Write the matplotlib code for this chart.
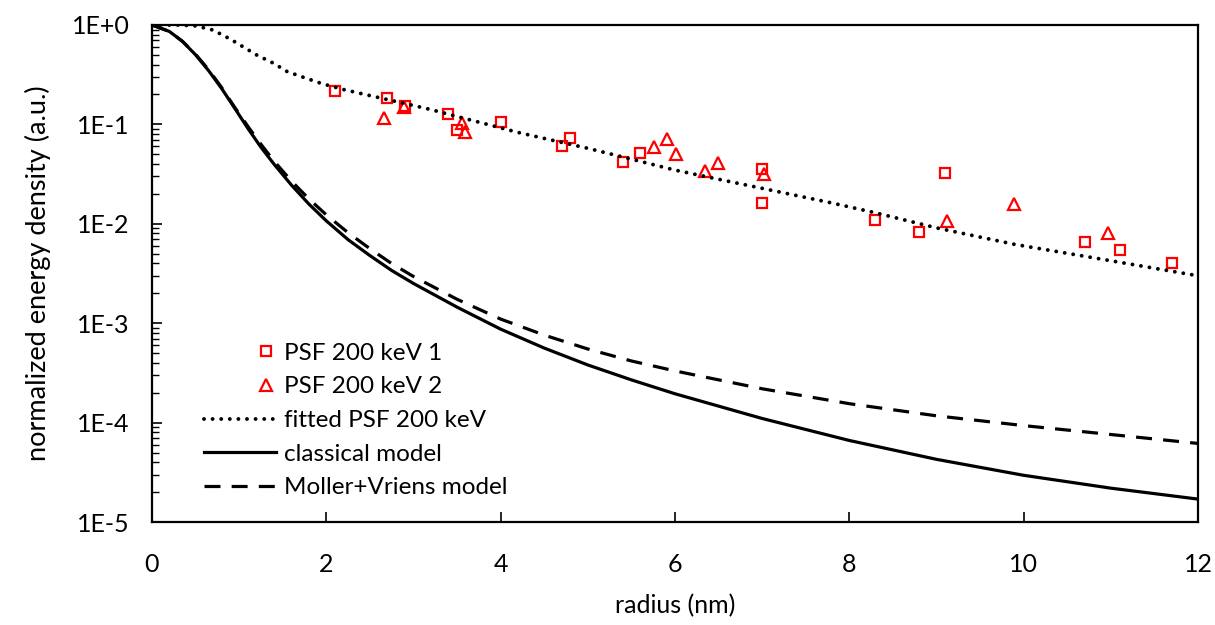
import numpy as np
import matplotlib
matplotlib.use('Agg')

import matplotlib.pyplot as plt
from matplotlib.legend_handler import HandlerLine2D
from matplotlib.ticker import LogLocator, FuncFormatter, NullFormatter, MultipleLocator

plt.rcParams['font.family'] = ['Lato', 'DejaVu Sans']

# --- measured PSF points ---
psf1_r = [2.1, 2.7, 2.9, 3.4, 3.5, 4.0, 4.7, 4.8, 5.4, 5.6, 7.0, 7.0,
          8.3, 8.8, 9.1, 10.7, 11.1, 11.7]
psf1_v = [0.217, 0.184, 0.153, 0.127, 0.088, 0.105, 0.061, 0.073, 0.042, 0.051,
          0.0355, 0.0162, 0.0109, 0.0083, 0.0328, 0.0066, 0.0055, 0.0040]

psf2_r = [2.66, 2.89, 3.56, 3.59, 5.76, 5.91, 6.01, 6.34, 6.49, 7.02,
          9.12, 9.89, 10.97]
psf2_v = [0.116, 0.150, 0.103, 0.084, 0.059, 0.071, 0.050, 0.034, 0.041, 0.0317,
          0.0107, 0.0158, 0.0081]

# --- fitted PSF (dotted) ---
fit_r = [0, 0.3, 0.5, 0.7, 0.9, 1.05, 1.2, 1.4, 1.55, 1.75, 1.95, 2.2, 2.5, 2.8,
         3.2, 3.5, 3.85, 4.2, 4.6, 5.0, 5.5, 6.0, 6.6, 7.2, 7.8, 8.3, 9.0, 9.9,
         10.9, 12.0]
fit_v = [1.0, 1.0, 0.98, 0.89, 0.72, 0.60, 0.50, 0.41, 0.34, 0.295, 0.257, 0.224,
         0.195, 0.17, 0.141, 0.12, 0.10, 0.083, 0.069, 0.0575, 0.0447, 0.0347,
         0.0269, 0.0209, 0.0162, 0.0129, 0.0091, 0.0062, 0.0044, 0.0030]

# --- model curves ---
model_r = [0, 0.2, 0.35, 0.5, 0.65, 0.8, 0.95, 1.1, 1.25, 1.4, 1.6, 1.8, 2.0,
           2.25, 2.5, 2.75, 3.0, 3.5, 4.0, 4.5, 5.0, 5.5, 6.0, 7.0, 8.0, 9.0,
           10.0, 11.0, 12.0]
classical_v = [1.0, 0.861, 0.684, 0.501, 0.347, 0.229, 0.145, 0.0912, 0.0589,
               0.0398, 0.0245, 0.0158, 0.0107, 0.00692, 0.00479, 0.00339,
               0.00251, 0.00145, 0.000871, 0.000562, 0.000380, 0.000269,
               0.000195, 0.000110, 6.61e-5, 4.27e-5, 2.95e-5, 2.19e-5, 1.70e-5]
moller_v = [1.0, 0.861, 0.684, 0.507, 0.355, 0.234, 0.148, 0.0955, 0.0631,
            0.0427, 0.0269, 0.0178, 0.0123, 0.00813, 0.00562, 0.00398,
            0.00295, 0.00174, 0.00110, 0.000759, 0.000550, 0.000417,
            0.000331, 0.000219, 0.000155, 0.000117, 9.33e-5, 7.59e-5, 6.17e-5]


class MarkerRight(HandlerLine2D):
    # legend marker sits near the right end of the handle, as in Excel
    def get_xdata(self, legend, xdescent, ydescent, width, height, fontsize):
        xd = np.array([-xdescent + 0.85 * width])
        return xd, xd


fig = plt.figure(figsize=(12.15, 6.25), dpi=100)
ax = fig.add_axes([0.1251, 0.1648, 0.8609, 0.7952])

p1, = ax.plot(psf1_r, psf1_v, linestyle='none', marker='s', markersize=7.5,
              markerfacecolor='none', markeredgecolor='#ff0000', markeredgewidth=1.6,
              label='PSF 200 keV 1')
p2, = ax.plot(psf2_r, psf2_v, linestyle='none', marker='^', markersize=8.5,
              markerfacecolor='none', markeredgecolor='#ff0000', markeredgewidth=1.6,
              label='PSF 200 keV 2')
ax.plot(fit_r, fit_v, color='black', linewidth=2.8, linestyle=(0, (0.01, 2.2)),
        dash_capstyle='round', label='fitted PSF 200 keV')
ax.plot(model_r, classical_v, color='black', linewidth=2.3, label='classical model')
ax.plot(model_r, moller_v, color='black', linewidth=2.3, linestyle=(0, (5, 3.5)),
        label='Moller+Vriens model')

ax.set_yscale('log')
ax.set_xlim(0, 12)
ax.set_ylim(1e-5, 1)

ax.xaxis.set_major_locator(MultipleLocator(2))
ax.yaxis.set_major_locator(LogLocator(base=10, numticks=10))
ax.yaxis.set_minor_locator(LogLocator(base=10, subs=np.arange(2, 10), numticks=10))
ax.yaxis.set_minor_formatter(NullFormatter())
ax.yaxis.set_major_formatter(FuncFormatter(lambda v, p: f"1E{int(round(np.log10(v))):+d}"))

ax.tick_params(axis='x', direction='in', length=7, width=1.2, labelsize=18, pad=22)
ax.tick_params(axis='y', which='major', direction='in', length=7, width=1.2,
               labelsize=18, pad=16)
ax.tick_params(axis='y', which='minor', direction='in', length=5, width=1.0)

for sp in ax.spines.values():
    sp.set_linewidth(1.6)

ax.set_xlabel('radius (nm)', fontsize=18, labelpad=13)
ax.set_ylabel('normalized energy density (a.u.)', fontsize=19.5, labelpad=15)

ax.legend(loc='lower left', bbox_to_anchor=(0.04, 0.028), frameon=False,
          fontsize=17.5, handlelength=3.0, labelspacing=0.52, handletextpad=0.3,
          borderaxespad=0,
          handler_map={p1: MarkerRight(), p2: MarkerRight()})

fig.savefig('out.png', dpi=100)
